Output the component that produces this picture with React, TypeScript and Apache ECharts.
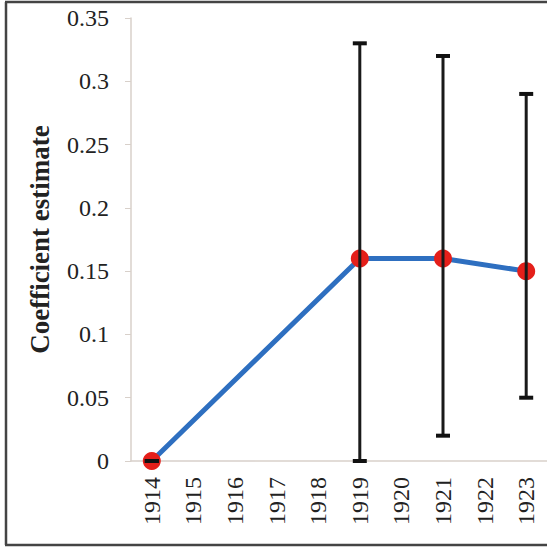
import React, { useEffect, useRef } from "react";
import * as echarts from "echarts";

const years = ["1914", "1915", "1916", "1917", "1918", "1919", "1920", "1921", "1922", "1923"];
const estimates: (number | null)[] = [0, null, null, null, null, 0.16, null, 0.16, null, 0.15];
const lowerCI: (number | null)[] = [0, null, null, null, null, 0, null, 0.02, null, 0.05];
const upperCI: (number | null)[] = [0, null, null, null, null, 0.33, null, 0.32, null, 0.29];
const yTicks = [0, 0.05, 0.1, 0.15, 0.2, 0.25, 0.3, 0.35];

const FONT = "'Liberation Serif', 'Times New Roman', serif";

export default function App() {
  const ref = useRef<HTMLDivElement>(null);
  useEffect(() => {
    if (!ref.current) return;
    const chart = echarts.init(ref.current, undefined, { renderer: "svg" });
    const errData: any[] = [];
    years.forEach((_, i) => {
      if (lowerCI[i] !== null && upperCI[i] !== null) errData.push([i, lowerCI[i], upperCI[i]]);
    });
    chart.setOption({
      animation: false,
      backgroundColor: "#ffffff",
      grid: { left: 131, top: 18, height: 443, width: 421 },
      xAxis: {
        type: "category",
        data: years,
        boundaryGap: true,
        axisLine: { lineStyle: { color: "#d8d0ca", width: 1.5 } },
        axisTick: { show: false },
        axisLabel: {
          rotate: 90,
          margin: 16,
          color: "#222",
          fontFamily: FONT,
          fontSize: 24,
          interval: 0,
        },
      },
      yAxis: {
        type: "value",
        min: yTicks[0],
        max: yTicks[yTicks.length - 1],
        interval: 0.05,
        name: "Coefficient estimate",
        nameLocation: "middle",
        nameGap: 78,
        nameTextStyle: {
          color: "#222",
          fontFamily: FONT,
          fontSize: 27,
          fontWeight: "bold",
        },
        axisLine: { show: true, lineStyle: { color: "#d8d0ca", width: 1.5 } },
        axisTick: { show: true, length: 6, lineStyle: { color: "#d8d0ca" } },
        splitLine: { show: false },
        axisLabel: {
          color: "#222",
          fontFamily: FONT,
          fontSize: 24,
          margin: 22,
        },
      },
      graphic: [
        { type: "line", shape: { x1: 6, y1: 2, x2: 6, y2: 545 }, style: { stroke: "#444", lineWidth: 2.5 }, z: 100 },
        { type: "line", shape: { x1: 5, y1: 2, x2: 547, y2: 2 }, style: { stroke: "#444", lineWidth: 2.5 }, z: 100 },
        { type: "line", shape: { x1: 5, y1: 545, x2: 547, y2: 545 }, style: { stroke: "#444", lineWidth: 2.5 }, z: 100 },
      ],
      series: [
        {
          type: "line",
          data: estimates,
          connectNulls: true,
          symbol: "circle",
          symbolSize: 18,
          lineStyle: { color: "#2e6fc0", width: 5 },
          itemStyle: { color: "#e41f1a" },
          z: 2,
        },
        {
          type: "custom",
          data: errData,
          z: 5,
          renderItem: (params: any, api: any) => {
            const x = api.value(0);
            const lo = api.coord([x, api.value(1)]);
            const hi = api.coord([x, api.value(2)]);
            const hw = 7;
            const st = { stroke: "#1a1a1a", lineWidth: 3 };
            const cap = { stroke: "#111", lineWidth: 4 };
            return {
              type: "group",
              children: [
                { type: "line", shape: { x1: lo[0], y1: lo[1], x2: hi[0], y2: hi[1] }, style: st },
                { type: "line", shape: { x1: lo[0] - hw, y1: lo[1], x2: lo[0] + hw, y2: lo[1] }, style: cap },
                { type: "line", shape: { x1: hi[0] - hw, y1: hi[1], x2: hi[0] + hw, y2: hi[1] }, style: cap },
              ],
            };
          },
        },
      ],
    });
    return () => chart.dispose();
  }, []);
  return (
    <div
      ref={ref}
      style={{ position: "absolute", left: 0, top: 0, width: 547, height: 548 }}
    />
  );
}
